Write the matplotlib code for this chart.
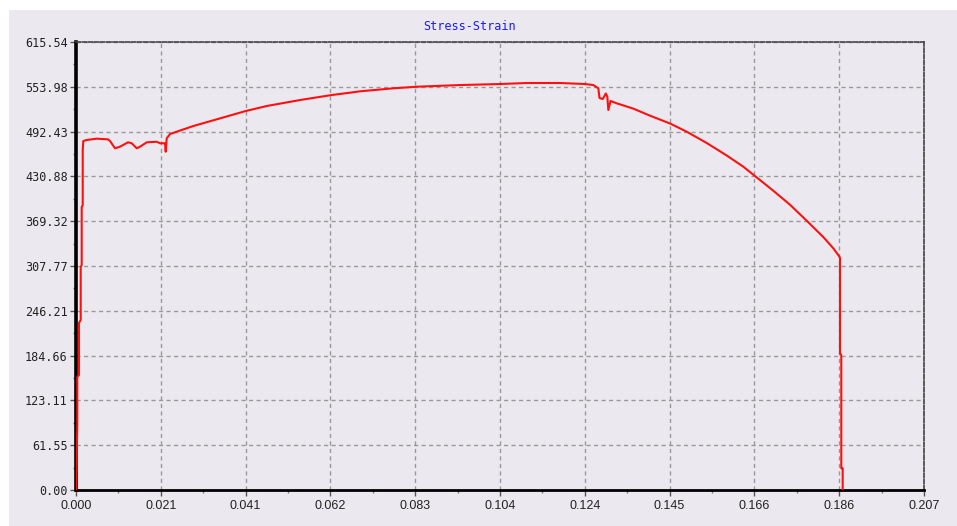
import matplotlib
matplotlib.use("Agg")
import matplotlib.pyplot as plt
from matplotlib.patches import Rectangle
from matplotlib.ticker import FixedLocator, MultipleLocator

# Tensile test record: engineering strain vs stress (MPa)
strain = [
    0.0, 0.00032, 0.00032, 0.00073, 0.00073, 0.00115, 0.00115, 0.00139,
    0.00139, 0.00164, 0.00164, 0.00178,
    0.00261, 0.00505, 0.00781, 0.0083, 0.00952, 0.01074, 0.01269, 0.0136,
    0.01482, 0.01562, 0.01726, 0.0197, 0.0205, 0.02173, 0.0219, 0.02214,
    0.02295, 0.02458, 0.02863, 0.03435, 0.04142, 0.04655, 0.05468, 0.06242,
    0.06688, 0.06932, 0.07745, 0.08317, 0.09374, 0.1035,
    0.11002, 0.11815, 0.12425, 0.12628, 0.1275, 0.12779, 0.12857, 0.12933,
    0.1297, 0.12994, 0.13048, 0.13199, 0.13604, 0.14011, 0.14499, 0.14907,
    0.15395, 0.15884, 0.16289, 0.16616, 0.17021, 0.17428, 0.17836, 0.18242,
    0.18486, 0.18637, 0.18649, 0.18649, 0.18681, 0.18681, 0.18715, 0.18715,
]
stress = [
    0.0, 89.3, 155.3, 158.0, 229.5, 233.6, 306.4, 309.1,
    388.8, 391.6, 467.1, 479.5,
    480.9, 482.7, 481.8, 479.5, 469.5, 471.7, 477.7, 476.4,
    469.5, 471.7, 477.7, 478.5, 476.4, 476.4, 464.8, 483.2,
    489.1, 492.3, 500.1, 509.3, 520.7, 527.6, 535.8, 542.7,
    545.9, 547.8, 551.9, 554.1, 556.4, 557.8,
    559.2, 559.2, 557.8, 556.4, 551.9, 538.6, 537.2, 544.8,
    540.4, 522.1, 534.5, 531.3, 524.0, 514.3, 503.6, 492.3,
    476.8, 459.6, 444.2, 429.5, 411.2, 392.0, 370.0, 347.5,
    332.1, 320.5, 318.3, 187.8, 185.5, 29.8, 29.8, 0.0,
]

x_ticks = [0.0, 0.0207, 0.0414, 0.0621, 0.0828, 0.1035, 0.1242, 0.1449,
           0.1656, 0.1863, 0.207]
x_labels = ["0.000", "0.021", "0.041", "0.062", "0.083", "0.104", "0.124",
            "0.145", "0.166", "0.186", "0.207"]
y_ticks = [0.0, 61.554, 123.108, 184.662, 246.216, 307.77, 369.324,
           430.878, 492.432, 553.986, 615.54]
y_labels = ["0.00", "61.55", "123.11", "184.66", "246.21", "307.77",
            "369.32", "430.88", "492.43", "553.98", "615.54"]

W, H = 957, 526
bg = "#ebe9ef"
fig = plt.figure(figsize=(W / 100, H / 100), dpi=100)
fig.patch.set_facecolor("white")
fig.patches.append(Rectangle((9 / W, 0), 1 - 9 / W, 1 - 10 / H,
                             transform=fig.transFigure, facecolor=bg,
                             edgecolor="none", zorder=-10))

left, right, top, bottom = 76, 924, 42, 490
ax = fig.add_axes([left / W, 1 - bottom / H, (right - left) / W, (bottom - top) / H])
ax.set_facecolor(bg)

ax.plot(strain, stress, color="#ff1010", lw=1.5, zorder=3, solid_joinstyle="round")

ax.set_xlim(0, 0.207)
ax.set_ylim(0, 615.54)
ax.xaxis.set_major_locator(FixedLocator(x_ticks))
ax.yaxis.set_major_locator(FixedLocator(y_ticks))
ax.xaxis.set_minor_locator(MultipleLocator(0.01035))
ax.yaxis.set_minor_locator(MultipleLocator(30.777))
ax.set_xticklabels(x_labels, family="Liberation Sans", fontsize=9, color="#222222")
ax.set_yticklabels(y_labels, family="DejaVu Sans Mono", fontsize=8.5, color="#222222")

ax.tick_params(axis="both", which="major", direction="out", length=4,
               width=1, color="#555555", pad=3)
ax.tick_params(axis="both", which="minor", direction="out", length=2.5,
               width=1, color="#777777")
ax.tick_params(axis="y", pad=2)

ax.grid(True, which="major", color="#999999", lw=1.0, ls=(0, (3.0, 2.4)), zorder=1)

for side in ("top", "right"):
    ax.spines[side].set_linestyle((0, (2.5, 1.2)))
    ax.spines[side].set_color("#444444")
    ax.spines[side].set_linewidth(1.2)
ax.spines["left"].set_color("black")
ax.spines["left"].set_linewidth(2.6)
ax.spines["bottom"].set_color("black")
ax.spines["bottom"].set_linewidth(2.0)

fig.text(470 / W, 1 - 27 / H, "Stress-Strain", color="#1a1aff",
         family="DejaVu Sans Mono", fontsize=8.5, ha="center", va="center")

fig.savefig("out.png", dpi=100, facecolor=fig.get_facecolor())
